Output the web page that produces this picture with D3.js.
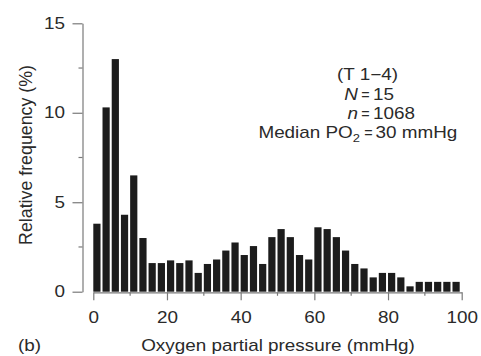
<!DOCTYPE html>
<html>
<head>
<meta charset="utf-8">
<script src="https://cdn.jsdelivr.net/npm/d3@7"></script>
<style>
  body { margin: 0; background: #fff; }
  svg { display: block; font-family: "Liberation Sans", Arial, sans-serif; }
</style>
</head>
<body>
<svg width="481" height="356"></svg>
<script>
// relative frequency (%) per 2.5 mmHg bin, 0 -> 100 mmHg
var binWidth = 2.5;
var freq = [3.8, 10.3, 13.0, 4.3, 6.5, 3.0, 1.6, 1.6, 1.75, 1.6,
            1.75, 1.05, 1.55, 1.8, 2.3, 2.75, 2.05, 2.55, 1.55, 3.05,
            3.5, 3.05, 2.05, 1.8, 3.6, 3.5, 3.05, 2.3, 1.55, 1.3,
            0.8, 1.05, 1.05, 0.8, 0.3, 0.55, 0.55, 0.55, 0.55, 0.55];
var xTicks = [0, 20, 40, 60, 80, 100];
var xMinor = [10, 30, 50, 70, 90];
var yTicks = [0, 5, 10, 15];
var yMinor = [2.5, 7.5, 12.5];
var notes = [["N", "15"], ["n", "1068"]];

var svg = d3.select('svg');
var axisCol = '#7a7a7a', textCol = '#2a2a2a';
var sx = 1.18; // the source figure is a bit wider than tall

var x = d3.scaleLinear().domain([0, 100]).range([93.3, 461.7]);
var y = d3.scaleLinear().domain([0, 15]).range([291.7, 23.3]);

// text placed at (px,py) and stretched sideways
function label(g, px, py, str, anchor, k) {
    return g.append('text')
        .attr('transform', 'translate(' + px + ',' + py + ') scale(' + (k || sx) + ',1)')
        .attr('text-anchor', anchor || 'start')
        .text(str);
}

/* ----------- BARS ----------- */
svg.append('g').selectAll('rect')
    .data(freq)
    .enter()
    .append('rect')
    .attr('x', function (d, i) { return x(i * binWidth); })
    .attr('width', function (d, i) { return x((i + 1) * binWidth) - x(i * binWidth) - 2; })
    .attr('y', function (d) { return y(d); })
    .attr('height', function (d) { return y(0) - y(d); })
    .attr('fill', '#1c1c1c');

/* ----------- AXES ----------- */
function styleAxis(g) {
    g.selectAll('path, line').attr('stroke', axisCol).attr('stroke-width', 1.2);
    g.selectAll('text').attr('fill', textCol).attr('font-size', 16).attr('font-family', null);
}

var xAxis = svg.append('g')
    .attr('transform', 'translate(0,' + (y(0) + 0.6) + ')')
    .call(d3.axisBottom(x).tickValues(xTicks).tickSize(8).tickSizeOuter(0).tickPadding(11))
    .call(styleAxis);
xAxis.selectAll('.tick text').attr('transform', 'scale(' + sx + ',1)');
xAxis.append('g').selectAll('line').data(xMinor).enter().append('line')
    .attr('x1', function (d) { return x(d); }).attr('x2', function (d) { return x(d); })
    .attr('y1', 0).attr('y2', 3.5)
    .attr('stroke', axisCol).attr('stroke-width', 1.2);

var yAxis = svg.append('g')
    .attr('transform', 'translate(82.5,0)')
    .call(d3.axisLeft(y).tickValues(yTicks).tickSize(10).tickSizeOuter(0).tickPadding(7))
    .call(styleAxis);
yAxis.selectAll('.tick text').attr('x', null)
    .attr('transform', 'translate(-17.5,0) scale(' + sx + ',1)');
yAxis.append('g').selectAll('line').data(yMinor).enter().append('line')
    .attr('x1', 0).attr('x2', -4)
    .attr('y1', function (d) { return y(d); }).attr('y2', function (d) { return y(d); })
    .attr('stroke', axisCol).attr('stroke-width', 1.2);

/* ----------- LABELS ----------- */
var labels = svg.append('g').attr('font-size', 16).attr('fill', textCol);
label(labels, 278, 351, 'Oxygen partial pressure (mmHg)', 'middle');
label(labels, 18, 351, '(b)');

svg.append('text')
    .attr('transform', 'translate(32,155) rotate(-90)')
    .attr('text-anchor', 'middle')
    .attr('font-size', 17.8).attr('fill', textCol)
    .text('Relative frequency (%)');

/* ----------- NOTE ----------- */
var note = svg.append('g').attr('font-size', 16).attr('fill', textCol);
label(note, 367.5, 80, '(T 1\u22124)', 'middle');

notes.forEach(function (d, i) {
    var by = 100 + i * 19;
    label(note, 358, by, d[0], 'end').attr('font-style', 'italic');
    label(note, 365.5, by, '=', 'middle', 0.9);
    label(note, 373, by, d[1]);
});

var med = label(note, 360, 138, '', 'end');
med.append('tspan').text('Median PO');
med.append('tspan').attr('font-size', 11).attr('dy', 4).text('2');
label(note, 368.5, 138, '=', 'middle', 0.9);
label(note, 375.5, 138, '30 mmHg');
</script>
</body>
</html>
